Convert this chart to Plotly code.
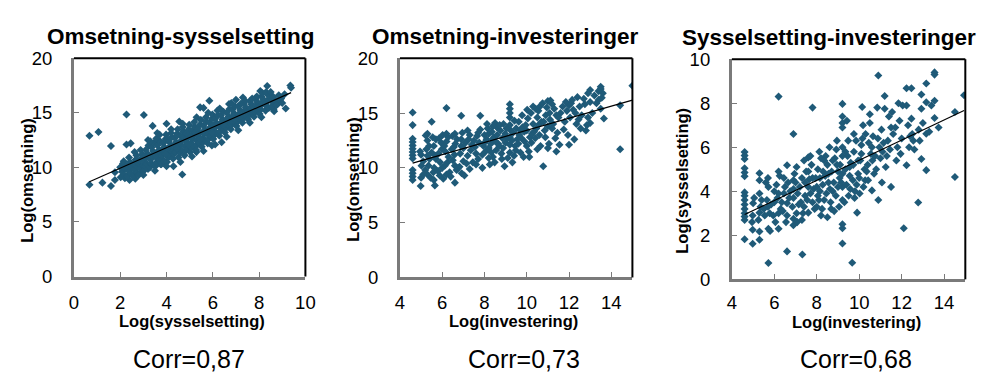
import numpy as np
import plotly.graph_objects as go

W, H = 996, 381

# ---------------- DATA ----------------
# Panel 1: Log(sysselsetting) (x) vs Log(omsetning) (y)
p1_points = [
    (0.67,12.9),(1.06,13.25),(1.6,11.95),(2.27,14.85),(3.02,14.8),(2.27,12.1),(2.45,12.2),
    (0.67,8.4),(1.23,8.6),(1.6,8.3),(1.77,8.85),(1.77,9.55),(4.68,9.35),(4.3,10.1),(3.4,13.8),
    (5.85,16.1),(5.45,15.5),(5.6,15.45),(7.3,16.4),(8.35,17.45),(8.05,17.0),(9.35,17.5),(9.38,17.3),
    (9.15,15.4),(8.65,15.15),(8.62,15.3),(8.85,16.6),(6.38,12.3),(5.96,12.0),(3.6,13.15),(4.0,14.0),
    (4.55,14.2),(2.95,9.6),(2.65,8.95),(2.2,9.0),(2.4,8.85),(5.29,11.4),
    (2.02,9.1),(2.08,9.6),(2.0,10.0),(2.12,10.35),(2.18,9.3),(2.22,9.9),(2.15,10.55),
    (2.3,9.2),(2.35,9.7),(2.28,10.15),(2.42,10.5),(2.38,10.9),(2.46,9.45),(2.5,10.0),
    (2.55,9.2),(2.6,9.8),(2.58,10.3),(2.66,10.7),(2.7,11.1),(2.72,9.5),(2.62,11.4),(2.74,10.05),
    (2.8,9.3),(2.85,9.9),(2.78,10.4),(2.9,10.8),(2.95,11.2),(2.88,11.6),(2.98,10.2),(2.82,10.6),
    (3.02,9.7),(3.08,10.1),(3.05,10.5),(3.12,10.85),(3.18,11.25),(3.1,11.6),(3.22,12.0),(3.15,10.3),(3.2,9.85),(3.04,11.0),
    (3.28,10.0),(3.32,10.4),(3.3,10.75),(3.38,11.1),(3.42,11.5),(3.35,11.85),(3.46,12.25),(3.48,10.2),(3.4,10.9),(3.3,12.4),
    (3.52,10.1),(3.58,10.5),(3.55,10.9),(3.62,11.25),(3.68,11.6),(3.6,12.0),(3.72,12.4),(3.7,10.7),(3.65,11.4),(3.56,12.65),(3.74,10.3),
    (3.78,10.3),(3.82,10.75),(3.8,11.1),(3.88,11.45),(3.92,11.85),(3.85,12.2),(3.96,12.6),(3.98,13.0),(3.9,10.55),(3.84,11.7),
    (4.02,10.5),(4.08,10.9),(4.05,11.3),(4.12,11.6),(4.18,12.0),(4.1,12.35),(4.22,12.75),(4.2,13.15),(4.15,11.05),(4.04,12.6),(4.24,11.45),
    (4.28,10.8),(4.32,11.2),(4.3,11.55),(4.38,11.9),(4.42,12.3),(4.35,12.7),(4.46,13.1),(4.48,13.5),(4.4,11.4),(4.34,12.1),(4.45,12.9),
    (4.52,10.9),(4.58,11.35),(4.55,11.75),(4.62,12.1),(4.68,12.5),(4.6,12.9),(4.72,13.3),(4.7,13.7),(4.65,11.6),(4.56,12.3),(4.74,12.8),
    (4.78,11.1),(4.82,11.5),(4.8,11.95),(4.88,12.3),(4.92,12.7),(4.85,13.1),(4.96,13.5),(4.98,13.9),(4.9,11.7),(4.84,12.5),(4.95,13.0),
    (5.02,11.4),(5.08,11.8),(5.05,12.2),(5.12,12.6),(5.18,12.95),(5.1,13.35),(5.22,13.75),(5.2,14.15),(5.15,12.0),(5.04,12.8),(5.24,13.2),
    (5.28,11.6),(5.32,12.05),(5.3,12.45),(5.38,12.8),(5.42,13.15),(5.35,13.55),(5.46,13.95),(5.48,14.35),(5.4,12.25),(5.34,13.0),
    (5.52,11.9),(5.58,12.3),(5.55,12.65),(5.62,13.05),(5.68,13.4),(5.6,13.8),(5.72,14.2),(5.7,14.6),(5.65,12.55),(5.56,13.25),
    (5.78,12.2),(5.82,12.6),(5.8,13.0),(5.88,13.35),(5.92,13.7),(5.85,14.1),(5.96,14.45),(5.98,14.85),(5.9,12.85),(5.84,13.55),
    (6.02,12.6),(6.08,13.0),(6.05,13.35),(6.12,13.7),(6.18,14.05),(6.1,14.45),(6.22,14.8),(6.2,15.2),(6.15,13.2),(6.04,13.9),
    (6.28,12.9),(6.32,13.3),(6.3,13.7),(6.38,14.0),(6.42,14.4),(6.35,14.75),(6.46,15.1),(6.48,13.5),(6.4,14.2),
    (6.52,13.2),(6.58,13.6),(6.55,14.0),(6.62,14.3),(6.68,14.65),(6.6,15.0),(6.72,15.35),(6.7,13.85),(6.64,14.5),
    (6.78,13.5),(6.82,13.9),(6.8,14.25),(6.88,14.6),(6.92,14.95),(6.85,15.3),(6.96,15.6),(6.98,14.1),(6.9,14.8),
    (7.02,13.8),(7.08,14.2),(7.05,14.55),(7.12,14.9),(7.18,15.25),(7.1,15.6),(7.22,15.85),(7.2,14.4),
    (7.28,14.1),(7.32,14.5),(7.3,14.85),(7.38,15.2),(7.42,15.5),(7.35,15.8),(7.46,14.7),
    (7.52,14.4),(7.58,14.8),(7.55,15.15),(7.62,15.45),(7.68,15.75),(7.6,16.05),(7.72,15.0),
    (7.78,14.65),(7.82,15.05),(7.8,15.4),(7.88,15.7),(7.92,16.0),(7.85,16.3),(7.96,15.2),
    (8.02,14.9),(8.08,15.3),(8.05,15.65),(8.12,15.95),(8.18,16.25),(8.1,16.5),
    (8.28,15.2),(8.32,15.6),(8.3,15.9),(8.38,16.2),(8.42,15.45),
    (8.55,15.6),(8.6,15.95),(8.7,16.2),(8.52,16.3),(8.8,15.8),(8.9,16.1),
    (7.9,16.5),(8.15,16.8),(8.4,16.6),(8.6,16.5),(8.95,16.3),(9.1,16.7),(8.3,16.9),(7.7,16.3),
    (7.4,16.1),(7.0,16.2),(6.7,15.8),(8.75,15.7),(9.0,15.9),(8.5,16.9),
    (3.5,9.7),(4.0,10.1),(4.6,10.5),(5.1,11.0),(5.6,11.5),(6.1,12.1),(6.6,12.8),(7.1,13.4),(7.6,14.1),(8.1,14.6),(3.0,9.3),
    (3.2,12.5),(3.7,13.0),(4.2,13.5),(4.7,14.0),(5.3,14.6),(5.8,15.0),(6.3,15.4),(6.8,15.9),
    (3.45,11.3),(3.95,11.2),(4.45,11.7),(4.95,12.1),(5.45,12.6),(5.95,13.2),(6.45,13.9),(6.95,14.4),(7.45,15.0),(7.95,15.5),
]

# Panel 2: Log(investering) (x) vs Log(omsetning) (y)
p2_points = [
    (4.6,15.05),(4.6,13.9),(4.6,12.65),(4.6,12.35),(4.6,12.05),(4.6,11.75),(4.6,11.45),(4.6,11.15),(4.6,10.85),(4.6,9.8),(4.6,9.5),(4.6,9.2),(4.6,8.9),
    (4.98,8.35),(5.0,9.1),(5.02,10.2),(5.0,11.2),(4.95,11.5),(5.1,10.6),
    (5.3,13.1),(5.3,12.5),(5.25,11.7),(5.3,11.1),(5.35,10.2),(5.3,9.4),(5.2,9.8),(5.4,10.8),(5.38,12.0),(5.22,12.95),
    (5.5,14.2),(5.55,12.8),(5.6,12.0),(5.7,10.8),(5.65,8.4),(5.5,11.4),(5.62,10.0),(5.7,12.6),(5.58,9.6),(5.68,11.1),
    (5.82,11.3),(5.9,10.5),(5.95,12.3),(5.85,12.7),(6.0,10.0),(5.98,11.7),(5.88,9.3),(6.02,13.0),
    (6.2,15.45),(6.2,13.1),(6.2,12.4),(6.15,11.5),(6.25,10.5),(6.2,9.4),(6.1,12.0),(6.3,11.0),(6.28,12.8),(6.12,10.2),
    (6.6,8.65),(6.6,13.1),(6.62,12.2),(6.58,11.2),(6.6,10.2),(6.45,11.7),(6.5,10.7),(6.7,12.6),(6.68,9.8),(6.48,12.9),(6.55,11.9),
    (6.9,14.75),(6.9,12.6),(6.9,12.0),(6.92,9.5),(6.85,11.3),(7.0,10.6),(6.95,13.2),(7.0,11.8),(6.82,10.1),
    (7.1,12.3),(7.2,11.1),(7.3,13.0),(7.25,12.6),(7.15,10.4),(7.35,11.6),(7.4,12.1),(7.3,9.9),(7.2,13.4),
    (7.8,14.75),(7.8,13.5),(7.5,12.5),(7.6,11.3),(7.65,12.9),(7.7,10.8),(7.55,11.9),(7.75,12.3),(7.6,10.3),(7.7,13.2),
    (7.95,12.0),(8.0,13.0),(8.05,11.5),(8.1,12.6),(8.15,13.6),(8.2,10.9),(7.9,11.2),(8.0,12.3),(8.12,14.0),(8.2,11.8),
    (8.3,12.2),(8.35,13.3),(8.4,11.0),(8.45,12.8),(8.5,14.1),(8.55,11.6),(8.6,13.0),(8.38,12.6),(8.48,10.5),(8.58,13.7),(8.32,11.4),(8.52,12.4),
    (8.7,12.0),(8.75,13.4),(8.8,11.3),(8.85,12.7),(8.9,14.0),(8.95,10.15),(9.0,12.3),(8.72,13.9),(8.82,10.8),(8.98,13.1),(8.88,11.8),
    (9.2,15.8),(9.2,15.4),(9.2,15.0),(9.2,14.6),(9.2,13.5),(9.2,12.8),(9.2,12.1),(9.2,11.4),(9.2,13.9),
    (9.3,12.5),(9.35,13.2),(9.4,11.1),(9.45,12.0),(9.5,13.6),(9.42,14.3),(9.1,10.9),(9.48,11.6),(9.32,10.5),
    (9.6,12.2),(9.65,13.0),(9.7,11.4),(9.75,12.7),(9.8,13.7),(9.85,11.0),(9.9,12.4),(9.62,14.2),(9.78,14.8),(9.88,13.3),
    (10.0,12.0),(10.0,13.4),(10.05,14.5),(10.1,11.5),(10.15,12.8),(10.2,15.0),(10.25,13.1),(10.3,14.0),(10.02,15.3),(10.22,12.3),(10.12,11.0),
    (10.4,12.7),(10.45,13.6),(10.5,14.6),(10.55,15.2),(10.6,13.0),(10.65,12.0),(10.7,14.2),(10.42,15.4),(10.62,15.6),(10.5,11.7),
    (10.78,10.15),(10.85,13.4),(10.9,14.8),(10.95,15.5),(11.0,16.1),(11.05,12.2),(11.0,11.8),(11.1,14.4),(10.88,12.8),(11.08,15.0),(11.12,16.15),
    (11.4,11.5),(11.55,12.1),(11.25,14.0),(11.3,15.4),(11.45,13.2),(11.5,14.6),(11.6,15.0),(11.35,12.7),(11.2,13.6),
    (11.8,14.2),(11.9,15.2),(12.0,15.7),(12.0,12.1),(11.75,13.5),(12.05,14.6),(11.95,13.0),(12.1,15.9),
    (12.25,12.6),(12.4,16.45),(12.3,15.0),(12.35,14.0),(12.5,15.6),(12.55,13.6),(12.45,14.4),(12.2,15.3),(12.6,14.8),
    (12.8,13.4),(12.9,14.6),(13.0,17.1),(13.0,16.0),(13.0,14.1),(12.75,15.8),(13.1,15.0),(12.85,13.9),
    (13.5,17.4),(13.5,17.2),(13.55,16.4),(13.5,15.4),(13.65,14.5),(13.3,15.9),(13.4,16.2),
    (14.42,15.7),(14.42,11.7),(15.0,17.5),
    (5.1,9.4),(5.45,9.1),(5.8,9.7),(6.05,9.0),(6.35,9.6),(6.75,10.0),(7.05,9.3),(7.45,10.5),(7.9,10.0),(8.25,10.3),(5.6,8.9),(6.4,9.2),
    (10.3,15.6),(10.75,15.9),(11.2,15.8),(11.7,15.6),(12.15,16.2),(12.7,16.3),(10.6,14.0),(11.0,13.8),(11.4,14.8),(11.85,16.0),
    (12.9,16.8),(13.2,16.6),(13.6,16.8),(13.4,17.0),
    (8.2,13.1),(8.65,12.2),(9.05,13.6),(9.55,12.6),(9.95,13.9),(10.35,13.3),(10.8,14.2),(9.1,12.7),(8.4,13.8),(9.7,13.4),
]

# Panel 3: Log(investering) (x) vs Log(sysselsetting) (y)
p3_points = [
    (4.6,5.78),(4.6,5.62),(4.6,5.47),(4.6,5.05),(4.6,4.85),(4.6,4.68),(4.6,3.95),(4.6,3.8),(4.6,3.6),(4.6,3.4),(4.6,3.2),(4.6,3.0),(4.6,2.85),(4.6,2.7),(4.6,1.82),
    (4.98,1.62),(4.98,2.25),(4.98,2.9),(5.0,3.46),(5.05,3.7),(4.95,2.6),
    (5.3,4.82),(5.3,4.5),(5.3,3.9),(5.3,3.03),(5.3,2.17),(5.3,1.8),(5.35,3.3),(5.25,2.7),(5.4,3.6),
    (5.72,0.74),(5.72,2.3),(5.7,4.6),(5.72,4.2),(5.7,3.3),(5.6,4.4),(5.55,2.9),(5.65,3.6),(5.8,2.2),(5.78,3.0),(5.5,3.2),
    (6.2,8.3),(6.2,4.9),(6.2,3.9),(6.2,3.0),(6.2,2.3),(6.0,3.5),(6.05,2.6),(6.1,4.3),(6.3,3.2),(6.25,4.7),(5.95,2.9),(6.15,3.7),
    (6.6,1.27),(6.6,5.18),(6.6,3.46),(6.6,2.9),(6.45,3.9),(6.5,4.2),(6.55,2.6),(6.7,3.7),(6.65,4.4),(6.4,3.1),
    (6.9,6.6),(6.9,4.5),(6.9,4.1),(6.9,3.7),(6.9,2.46),(6.9,2.75),(6.85,3.3),(7.0,4.4),(7.05,3.0),(7.1,3.9),(6.95,4.8),(7.08,2.6),
    (7.32,1.13),(7.2,4.2),(7.25,3.5),(7.3,4.6),(7.35,3.0),(7.4,5.4),(7.45,3.8),(7.5,4.9),(7.3,2.7),(7.45,4.4),
    (7.6,5.54),(7.6,4.9),(7.6,4.2),(7.6,3.03),(7.8,7.8),(7.8,4.6),(7.8,3.5),(7.7,3.9),(7.75,5.2),(7.85,4.1),(7.9,3.2),(7.65,4.55),
    (8.0,4.2),(8.05,5.0),(8.1,3.6),(8.15,4.6),(8.2,5.5),(8.25,3.2),(8.3,4.9),(8.0,3.3),(8.12,5.8),(8.28,4.3),(8.2,2.9),
    (8.5,2.82),(8.4,4.7),(8.45,3.9),(8.5,5.2),(8.55,4.4),(8.6,6.0),(8.65,3.5),(8.7,4.9),(8.42,5.6),(8.62,4.1),(8.68,3.2),
    (8.8,4.4),(8.85,5.5),(8.9,3.8),(8.95,6.3),(9.0,4.9),(9.05,3.3),(9.1,5.2),(8.82,3.1),(9.0,4.2),(8.92,5.9),(9.08,4.6),
    (9.21,7.97),(9.21,7.4),(9.21,7.1),(9.21,6.9),(9.21,6.0),(9.21,5.6),(9.21,4.8),(9.21,4.2),(9.21,3.6),(9.21,2.32),(9.21,2.5),(9.21,1.63),
    (9.35,5.0),(9.4,4.3),(9.45,5.6),(9.5,3.8),(9.55,4.7),(9.6,5.3),(9.42,7.2),(9.3,3.5),(9.58,4.1),(9.48,6.3),
    (9.67,0.75),(9.7,4.5),(9.75,5.8),(9.8,4.0),(9.85,6.3),(9.9,3.03),(9.95,4.8),(9.72,5.2),(9.88,4.3),(9.78,3.7),
    (10.0,4.6),(10.05,5.4),(10.1,6.1),(10.14,7.83),(10.2,4.2),(10.25,5.0),(10.3,6.6),(10.02,3.9),(10.18,7.0),(10.28,4.5),(10.1,5.7),
    (10.4,5.2),(10.45,6.2),(10.5,7.1),(10.6,4.04),(10.55,5.7),(10.65,6.5),(10.7,4.8),(10.42,4.5),(10.62,5.4),(10.5,7.5),
    (10.9,9.26),(10.9,3.6),(11.07,4.4),(10.85,7.8),(10.95,6.0),(11.0,5.5),(11.05,6.8),(10.8,5.0),(11.1,5.8),(10.88,6.4),
    (11.2,8.33),(11.2,7.75),(11.5,4.2),(11.5,6.9),(11.3,5.6),(11.35,6.3),(11.4,7.4),(11.25,5.1),(11.45,5.9),(11.55,7.6),(11.6,6.6),
    (12.1,2.32),(11.8,6.0),(11.9,7.2),(12.0,6.4),(11.75,5.4),(12.05,7.9),(11.95,5.7),(11.85,8.0),
    (12.23,8.68),(12.23,7.9),(12.23,5.18),(12.46,8.68),(12.46,7.3),(12.4,6.5),(12.35,6.0),(12.3,7.0),(12.5,6.6),(12.6,5.9),(12.55,6.3),
    (12.78,3.49),(12.93,8.4),(12.93,7.75),(12.93,5.47),(13.16,8.9),(13.16,8.04),(13.16,6.61),(13.16,4.96),(12.8,6.8),(13.0,7.1),(12.85,6.3),
    (13.55,9.4),(13.55,9.3),(13.55,8.11),(13.55,7.33),(13.74,6.9),(13.4,7.9),(13.3,6.7),
    (14.51,4.65),(14.51,7.6),(14.94,8.36),
    (6.35,3.5),(6.75,4.0),(7.15,3.4),(7.55,3.6),(7.95,4.6),(8.35,3.6),(8.75,4.0),(9.15,4.4),(9.55,5.1),(9.95,5.4),
    (10.35,4.9),(10.75,5.6),(8.15,4.0),(8.55,4.8),(8.95,5.2),(9.35,5.8),(9.75,6.6),(10.15,6.4),(7.05,5.1),(7.7,5.6),
    (8.35,5.4),(10.6,6.0),(11.15,6.2),(11.7,6.9),(6.0,4.0),(5.85,3.4),(6.45,4.6),(7.4,3.3),(8.05,3.8),(8.75,5.4),
]

titles = ["Omsetning-sysselsetting", "Omsetning-investeringer", "Sysselsetting-investeringer"]
x_titles = ["Log(sysselsetting)", "Log(investering)", "Log(investering)"]
y_titles = ["Log(omsetning)", "Log(omsetning)", "Log(sysselsetting)"]
corr_labels = ["Corr=0,87", "Corr=0,73", "Corr=0,68"]
x_ranges = [[0, 10], [4, 15], [4, 15]]
x_ticks = [[0, 2, 4, 6, 8, 10], [4, 6, 8, 10, 12, 14], [4, 6, 8, 10, 12, 14]]
y_ranges = [[0, 20], [0, 20], [0, 10]]
y_ticks = [[0, 5, 10, 15, 20], [0, 5, 10, 15, 20], [0, 2, 4, 6, 8, 10]]

# ---------------- LAYOUT (pixel geometry) ----------------
plot_px = [  # left, right, top, bottom
    (70, 305, 50, 281),
    (401, 637, 50, 282),
    (738, 975, 51, 284),
]
title_px = [(179, 27), (508, 27), (837, 28)]
xtitle_px = [(190, 328), (516, 328), (865, 329)]
ytitle_px = [(22, 179), (354, 178), (687, 180)]
corr_px = [(187, 368), (527, 368), (864, 368)]
xtick_standoff = [7, 6, 4]

MARK = "#1f5a78"
AXG = "#7a7a7a"
FONT = "Arial, Liberation Sans, sans-serif"

fig = go.Figure()
datasets = [p1_points, p2_points, p3_points]

for i, pts in enumerate(datasets):
    xs = np.array([p[0] for p in pts])
    ys = np.array([p[1] for p in pts])
    sfx = "" if i == 0 else str(i + 1)
    fig.add_trace(go.Scatter(
        x=xs, y=ys, mode="markers", xaxis="x" + sfx, yaxis="y" + sfx,
        marker=dict(symbol="diamond", size=6.2, color=MARK, line=dict(width=0)),
        showlegend=False, hoverinfo="skip"))
    slope, inter = np.polyfit(xs, ys, 1)
    lx = np.array([xs.min(), xs.max()])
    fig.add_trace(go.Scatter(
        x=lx, y=inter + slope * lx, mode="lines", xaxis="x" + sfx, yaxis="y" + sfx,
        line=dict(color="black", width=1.2), showlegend=False, hoverinfo="skip"))

layout = dict(
    width=W, height=H, margin=dict(l=0, r=0, t=0, b=0),
    paper_bgcolor="white", plot_bgcolor="white",
    font=dict(family=FONT, color="black"),
)
annotations = []
shapes = []
for i in range(3):
    l, r, t, b = plot_px[i]
    sfx = "" if i == 0 else str(i + 1)
    common = dict(showline=True, linecolor=AXG, linewidth=3, ticks="inside",
                  ticklen=5, tickwidth=1, tickcolor=AXG, showgrid=False, zeroline=False,
                  tickfont=dict(size=18.5, family=FONT, color="black"), fixedrange=True)
    layout["xaxis" + sfx] = dict(common, domain=[l / W, r / W], range=x_ranges[i],
                                 tickvals=x_ticks[i], anchor="y" + sfx,
                                 ticklabelstandoff=xtick_standoff[i])
    layout["yaxis" + sfx] = dict(common, domain=[1 - b / H, 1 - t / H], range=y_ranges[i],
                                 tickvals=y_ticks[i], anchor="x" + sfx, ticklabelstandoff=15)
    xr = "x" + sfx + " domain"
    yr = "y" + sfx + " domain"
    shapes.append(dict(type="line", xref=xr, yref=yr, x0=0, x1=1, y0=1, y1=1,
                       line=dict(color="black", width=2)))
    shapes.append(dict(type="line", xref=xr, yref=yr, x0=1, x1=1, y0=0, y1=1,
                       line=dict(color="black", width=2)))
    tx, ty = title_px[i]
    annotations.append(dict(text="<b>%s</b>" % titles[i], x=tx / W, y=1 - ty / H, xref="paper", yref="paper",
                            xanchor="center", yanchor="middle", showarrow=False,
                            font=dict(size=22.5, family=FONT, color="black")))
    ax, ay = xtitle_px[i]
    annotations.append(dict(text="<b>%s</b>" % x_titles[i], x=ax / W, y=1 - ay / H, xref="paper", yref="paper",
                            xanchor="center", yanchor="middle", showarrow=False,
                            font=dict(size=16.5, family=FONT, color="black")))
    bx, by = ytitle_px[i]
    annotations.append(dict(text="<b>%s</b>" % y_titles[i], x=bx / W, y=1 - by / H, xref="paper", yref="paper",
                            xanchor="center", yanchor="middle", showarrow=False, textangle=-90,
                            font=dict(size=16.5, family=FONT, color="black")))
    cx, cy = corr_px[i]
    annotations.append(dict(text=corr_labels[i], x=cx / W, y=1 - cy / H, xref="paper", yref="paper",
                            xanchor="center", yanchor="middle", showarrow=False,
                            font=dict(size=25, family=FONT, color="black")))

layout["annotations"] = annotations
layout["shapes"] = shapes
fig.update_layout(**layout)
fig.write_html("out.html", config={"displayModeBar": False})
